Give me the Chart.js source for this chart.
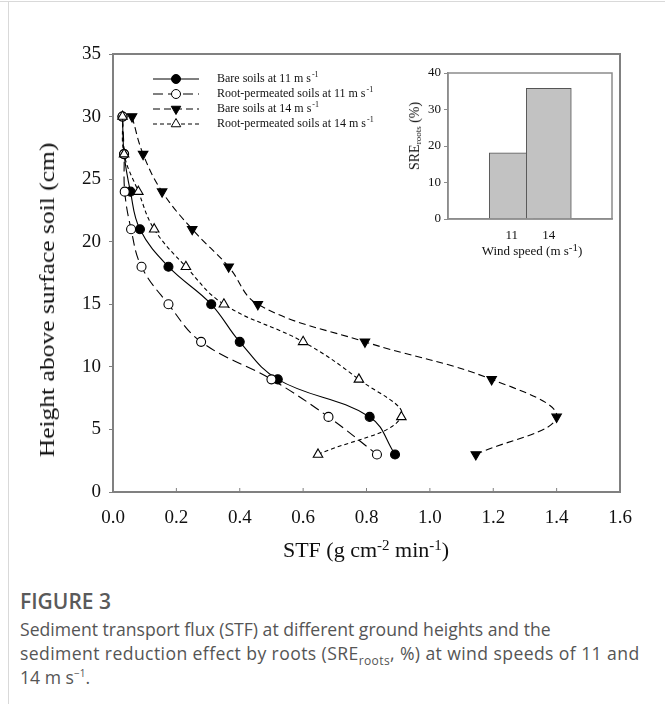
<!DOCTYPE html>
<html>
<head>
<meta charset="utf-8">
<script src="https://cdn.jsdelivr.net/npm/chart.js@4.4.1/dist/chart.umd.min.js"></script>
<style>
  body { margin: 0; background: #fff; }
  #wrap { position: relative; width: 665px; height: 704px; overflow: hidden; font-family: "Liberation Serif", "Times New Roman", serif; color: #111; }
  .linhaTopo { position: absolute; left: 0; top: 1px; width: 665px; height: 0; border-top: 1px solid #d9d9d9; }
  .linhaEsq { position: absolute; left: 8px; top: 1px; width: 0; height: 703px; border-left: 1px solid #d9d9d9; }
  #grafico { position: absolute; left: 0; top: 0; }
  #inset { position: absolute; left: 390px; top: 60px; }
  #yTitulo { position: absolute; left: 47px; top: 300px; transform: translate(-50%, -50%) rotate(-90deg) scaleX(1.16); white-space: nowrap; font-size: 22px; }
  #xTitulo { position: absolute; left: 366px; top: 550px; transform: translate(-50%, -50%); white-space: nowrap; font-size: 22px; }
  #xTitulo sup { font-size: 15px; vertical-align: 7px; line-height: 0; }
  #insetY { position: absolute; left: 415px; top: 136px; transform: translate(-50%, -50%) rotate(-90deg); white-space: nowrap; font-size: 14px; }
  #insetY sub { font-size: 9px; vertical-align: -2px; line-height: 0; }
  #insetX { position: absolute; left: 532px; top: 251px; transform: translate(-50%, -50%); white-space: nowrap; font-size: 13px; }
  #insetX sup { font-size: 11px; vertical-align: 4px; line-height: 0; }
  #legenda { position: absolute; left: 20px; top: 587px; font-family: "Open Sans", sans-serif; color: #555; }
  #legenda .fig { font-size: 21px; font-weight: 600; color: #5a5a5a; margin-bottom: 2px; }
  #legenda .txt { font-size: 17.6px; line-height: 24px; }
  #legenda .l2 { letter-spacing: 0.4px; }
  #legenda sub { font-size: 12px; line-height: 0; }
  #legenda sup { font-size: 10px; line-height: 0; }
</style>
</head>
<body>
<div id="wrap">
  <div class="linhaTopo"></div>
  <div class="linhaEsq"></div>
  <canvas id="grafico" width="665" height="575"></canvas>
  <canvas id="inset" width="235" height="215"></canvas>
  <div id="yTitulo">Height above surface soil (cm)</div>
  <div id="xTitulo">STF (g cm<sup>-2</sup> min<sup>-1</sup>)</div>
  <div id="insetY">SRE<sub>roots</sub> (%)</div>
  <div id="insetX">Wind speed (m s<sup>-1</sup>)</div>
  <div id="legenda">
    <div class="fig">FIGURE 3</div>
    <div class="txt">Sediment transport flux (STF) at different ground heights and the<br><span class="l2">sediment reduction effect by roots (SRE<sub>roots</sub>, %) at wind speeds of 11 and</span><br>14 m s<sup>&minus;1</sup>.</div>
  </div>
</div>
<script>
// alturas (cm) e fluxo STF
const alturas = [30, 27, 24, 21, 18, 15, 12, 9, 6, 3];
const bare11 = [0.03, 0.035, 0.055, 0.085, 0.175, 0.31, 0.40, 0.52, 0.81, 0.89];
const root11 = [0.03, 0.035, 0.037, 0.057, 0.09, 0.175, 0.278, 0.50, 0.68, 0.833];
const bare14 = [0.06, 0.095, 0.155, 0.25, 0.365, 0.457, 0.795, 1.195, 1.40, 1.145];
const root14 = [0.03, 0.035, 0.08, 0.13, 0.23, 0.35, 0.60, 0.776, 0.91, 0.647];
const nomes = ['Bare soils at 11 m s', 'Root-permeated soils at 11 m s', 'Bare soils at 14 m s', 'Root-permeated soils at 14 m s'];

// inset
const ventos = ['11', '14'];
const sre = [18.1, 35.8];

const xTicks = [0, 0.2, 0.4, 0.6, 0.8, 1.0, 1.2, 1.4, 1.6];
const yTicks = [0, 5, 10, 15, 20, 25, 30, 35];

function pontos(valores) {
  return valores.map((v, i) => ({ x: v, y: alturas[i] }));
}

function serie(nome, valores, dash, estilo, fundo, rot, raio, ordem) {
  return {
    label: nome,
    data: pontos(valores),
    order: ordem,
    showLine: true,
    borderColor: '#000',
    borderWidth: 1.1,
    borderDash: dash,
    tension: 0.4,
    pointStyle: estilo,
    pointRotation: rot,
    pointRadius: raio,
    pointHoverRadius: raio,
    pointBorderWidth: 1.1,
    pointBorderColor: '#000',
    pointBackgroundColor: fundo,
    backgroundColor: fundo
  };
}

// moldura, ticks internos do eixo x e legenda
const extras = {
  id: 'extras',
  afterDraw(chart) {
    const ctx = chart.ctx;
    const a = chart.chartArea;
    ctx.save();
    ctx.strokeStyle = '#808080';
    ctx.lineWidth = 2;
    ctx.strokeRect(a.left, a.top, a.right - a.left, a.bottom - a.top);
    const xs = chart.scales.x;
    ctx.lineWidth = 1;
    ctx.beginPath();
    xs.ticks.forEach(t => {
      const px = xs.getPixelForValue(t.value);
      ctx.moveTo(px, a.bottom);
      ctx.lineTo(px, a.bottom - 4);
    });
    ctx.stroke();

    // legenda
    chart.data.datasets.forEach((ds, i) => {
      const y = a.top + 25 + i * 15;
      const x0 = a.left + 40;
      ctx.strokeStyle = '#000';
      ctx.lineWidth = 1;
      ctx.setLineDash(ds.borderDash);
      ctx.beginPath();
      ctx.moveTo(x0, y);
      ctx.lineTo(x0 + 46, y);
      ctx.stroke();
      ctx.setLineDash([]);
      ctx.fillStyle = ds.pointBackgroundColor;
      ctx.strokeStyle = '#000';
      Chart.helpers.drawPoint(ctx, { pointStyle: ds.pointStyle, rotation: ds.pointRotation, radius: ds.pointRadius, borderWidth: 1 }, x0 + 23, y);
      ctx.fillStyle = '#111';
      ctx.font = '12px "Liberation Serif", serif';
      ctx.textBaseline = 'middle';
      ctx.fillText(ds.label, x0 + 64, y);
      const w = ctx.measureText(ds.label).width;
      ctx.font = '8px "Liberation Serif", serif';
      ctx.fillText('-1', x0 + 64 + w + 1, y - 4);
    });
    ctx.restore();
  }
};

new Chart(document.getElementById('grafico').getContext('2d'), {
  type: 'scatter',
  data: {
    datasets: [
      serie(nomes[0], bare11, [], 'circle', '#000', 0, 4.5, 3),
      serie(nomes[1], root11, [10, 5], 'circle', '#fff', 0, 4.5, 2),
      serie(nomes[2], bare14, [7, 4], 'triangle', '#000', 180, 5.5, 1),
      serie(nomes[3], root14, [4, 3], 'triangle', '#fff', 0, 5.5, 0)
    ]
  },
  options: {
    responsive: false,
    animation: false,
    layout: { padding: { left: 0, right: 45, top: 54, bottom: 0 } },
    plugins: { legend: { display: false }, tooltip: { enabled: false } },
    scales: {
      x: {
        type: 'linear',
        min: 0,
        max: 1.6,
        afterBuildTicks: s => { s.ticks = xTicks.map(v => ({ value: v })); },
        afterFit: s => { s.height = 83; },
        grid: { drawOnChartArea: false, drawTicks: false },
        border: { color: '#808080', width: 2 },
        ticks: { padding: 15, color: '#111', font: { family: '"Liberation Serif", serif', size: 19 }, callback: v => v.toFixed(1) }
      },
      y: {
        min: 0,
        max: 35,
        afterBuildTicks: s => { s.ticks = yTicks.map(v => ({ value: v })); },
        afterFit: s => { s.width = 113; },
        grid: { drawOnChartArea: false, tickLength: 4, color: '#808080' },
        border: { color: '#808080', width: 2 },
        ticks: { padding: 8, color: '#111', font: { family: '"Liberation Serif", serif', size: 19 } }
      }
    }
  },
  plugins: [extras]
});

const molduraInset = {
  id: 'molduraInset',
  afterDraw(chart) {
    const ctx = chart.ctx;
    const a = chart.chartArea;
    ctx.save();
    ctx.strokeStyle = '#8c8c8c';
    ctx.lineWidth = 1.5;
    ctx.strokeRect(a.left, a.top, a.right - a.left, a.bottom - a.top);
    ctx.restore();
  }
};

new Chart(document.getElementById('inset').getContext('2d'), {
  type: 'bar',
  data: {
    datasets: [{
      data: sre.map((v, i) => ({ x: i, y: v })),
      backgroundColor: '#c2c2c2',
      borderColor: '#555',
      borderWidth: 1,
      barThickness: 45
    }]
  },
  options: {
    responsive: false,
    animation: false,
    layout: { padding: { left: 0, right: 13, top: 13, bottom: 0 } },
    plugins: { legend: { display: false }, tooltip: { enabled: false } },
    scales: {
      x: {
        type: 'linear',
        min: -0.615,
        max: 1.6,
        afterBuildTicks: s => { s.ticks = ventos.map((v, i) => ({ value: i })); },
        afterFit: s => { s.height = 56; },
        grid: { display: false },
        border: { color: '#8c8c8c', width: 1.5 },
        ticks: { padding: 1, color: '#111', font: { family: '"Liberation Serif", serif', size: 13 }, callback: v => ventos[v] }
      },
      y: {
        min: 0,
        max: 40,
        ticks: { stepSize: 10, padding: 3, color: '#111', font: { family: '"Liberation Serif", serif', size: 13 } },
        afterFit: s => { s.width = 58; },
        grid: { drawOnChartArea: false, tickLength: 4, color: '#8c8c8c' },
        border: { color: '#8c8c8c', width: 1.5 }
      }
    }
  },
  plugins: [molduraInset]
});
</script>
</body>
</html>
